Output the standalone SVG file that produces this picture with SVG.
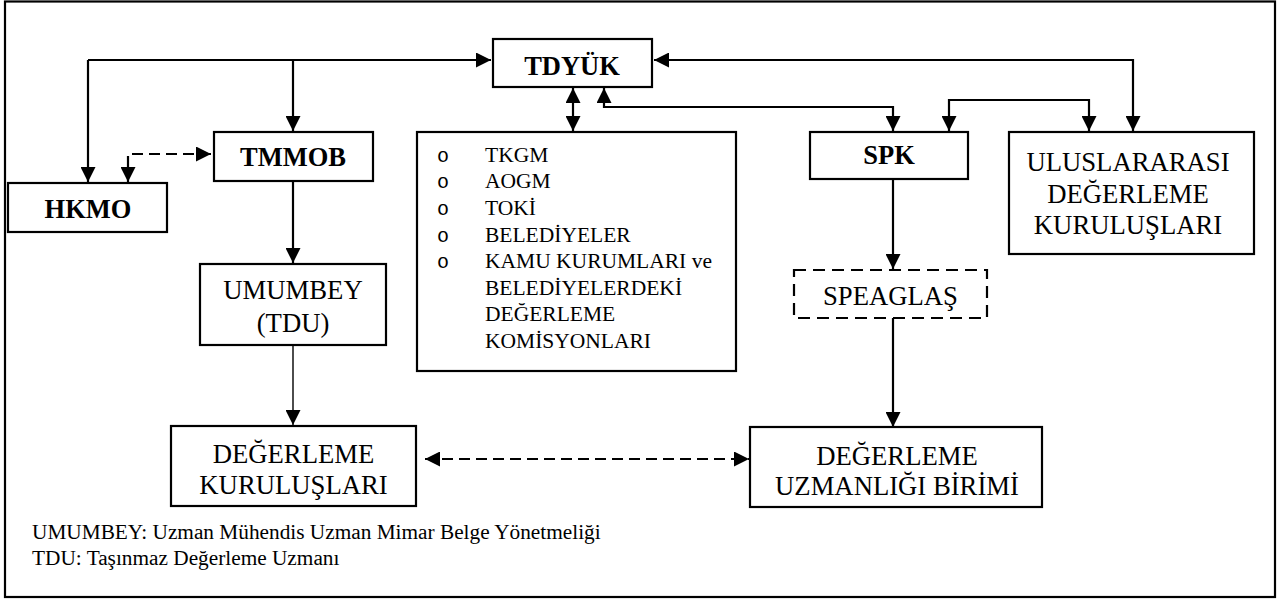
<svg xmlns="http://www.w3.org/2000/svg" width="1281" height="601" viewBox="0 0 1281 601">
<style>
.box{fill:#fff;stroke:#000;stroke-width:2.2}
.dbox{fill:#fff;stroke:#000;stroke-width:2.2;stroke-dasharray:12 7}
text{font-family:'Liberation Serif','Times New Roman','DejaVu Serif',serif;fill:#000}
.b{font-weight:bold;font-size:26.5px;text-anchor:middle}
.t{font-size:26.7px;text-anchor:middle}
.l{font-size:21.5px}
.f{font-size:21.3px}
.o{font-family:'Liberation Mono','Courier New',monospace;font-size:20px}
.c{fill:none;stroke:#000;stroke-width:2.2}
.thin{stroke-width:1.4}
.dash{stroke-dasharray:11 6}
</style>
<defs>
<marker id="ah" markerUnits="userSpaceOnUse" markerWidth="15" markerHeight="15" refX="15" refY="7.5" orient="auto-start-reverse">
<path d="M0,0 L15,7.5 L0,15 Z" fill="#000"/>
</marker>
</defs>
<rect x="5" y="1.5" width="1270" height="595.5" fill="#fff" stroke="#000" stroke-width="2.2"/>

<g id="connectors">
<path class="c" d="M88,60 H491" marker-end="url(#ah)"/>
<path class="c" d="M88,60 V182" marker-end="url(#ah)"/>
<path class="c" d="M293,60 V131" marker-end="url(#ah)"/>
<path class="c dash" d="M211,154 H128 V182" marker-start="url(#ah)" marker-end="url(#ah)"/>
<path class="c" d="M293,181 V263" marker-end="url(#ah)"/>
<path class="c thin" d="M293,345 V425" marker-end="url(#ah)"/>
<path class="c dash" d="M425,459 H749" marker-start="url(#ah)" marker-end="url(#ah)"/>
<path class="c" d="M573,88 V131" marker-start="url(#ah)" marker-end="url(#ah)"/>
<path class="c" d="M604,88 V107 H893 V131" marker-start="url(#ah)" marker-end="url(#ah)"/>
<path class="c" d="M654,60 H1133 V131" marker-start="url(#ah)" marker-end="url(#ah)"/>
<path class="c" d="M949,131 V100 H1089 V131" marker-start="url(#ah)" marker-end="url(#ah)"/>
<path class="c" d="M893,179 V269" marker-end="url(#ah)"/>
<path class="c" d="M893,318 V427" marker-end="url(#ah)"/>
</g>

<g id="tdyuk">
<rect class="box" x="493" y="39" width="159" height="48"/>
<text class="b" x="572" y="75">TDYÜK</text>
</g>
<g id="tmmob">
<rect class="box" x="214" y="132" width="159" height="49"/>
<text class="b" x="293" y="166">TMMOB</text>
</g>
<g id="hkmo">
<rect class="box" x="8" y="183" width="159" height="49"/>
<text class="b" x="88" y="218">HKMO</text>
</g>
<g id="umumbey">
<rect class="box" x="200" y="264" width="186" height="81"/>
<text class="t" x="293" y="299">UMUMBEY</text>
<text class="t" x="293" y="332">(TDU)</text>
</g>
<g id="degerleme-kuruluslari">
<rect class="box" x="171" y="426" width="245" height="80"/>
<text class="t" x="293.5" y="463">DEĞERLEME</text>
<text class="t" x="293.5" y="494">KURULUŞLARI</text>
</g>
<g id="kurumlar">
<rect class="box" x="417" y="132" width="319" height="239"/>
<text class="o" x="437" y="162">o</text>
<text class="o" x="437" y="188">o</text>
<text class="o" x="437" y="215">o</text>
<text class="o" x="437" y="242">o</text>
<text class="o" x="437" y="268">o</text>
<text class="l" x="485" y="162">TKGM</text>
<text class="l" x="485" y="188">AOGM</text>
<text class="l" x="485" y="215">TOKİ</text>
<text class="l" x="485" y="242">BELEDİYELER</text>
<text class="l" x="485" y="268">KAMU KURUMLARI ve</text>
<text class="l" x="485" y="295">BELEDİYELERDEKİ</text>
<text class="l" x="485" y="321">DEĞERLEME</text>
<text class="l" x="485" y="348">KOMİSYONLARI</text>
</g>
<g id="spk">
<rect class="box" x="810" y="132" width="158" height="47"/>
<text class="b" x="889" y="164">SPK</text>
</g>
<g id="uluslararasi">
<rect class="box" x="1009" y="132" width="245" height="122"/>
<text class="t" x="1128" y="171">ULUSLARARASI</text>
<text class="t" x="1128" y="203">DEĞERLEME</text>
<text class="t" x="1128" y="234">KURULUŞLARI</text>
</g>
<g id="speaglas">
<rect class="dbox" x="794" y="270" width="193" height="48"/>
<text class="t" x="890.5" y="305">SPEAGLAŞ</text>
</g>
<g id="degerleme-uzmanligi">
<rect class="box" x="750" y="427" width="292" height="80"/>
<text class="t" x="897" y="465">DEĞERLEME</text>
<text class="t" x="897" y="495">UZMANLIĞI BİRİMİ</text>
</g>
<g id="notes">
<text class="f" x="32" y="539">UMUMBEY: Uzman Mühendis Uzman Mimar Belge Yönetmeliği</text>
<text class="f" x="32" y="565">TDU: Taşınmaz Değerleme Uzmanı</text>
</g>
</svg>
